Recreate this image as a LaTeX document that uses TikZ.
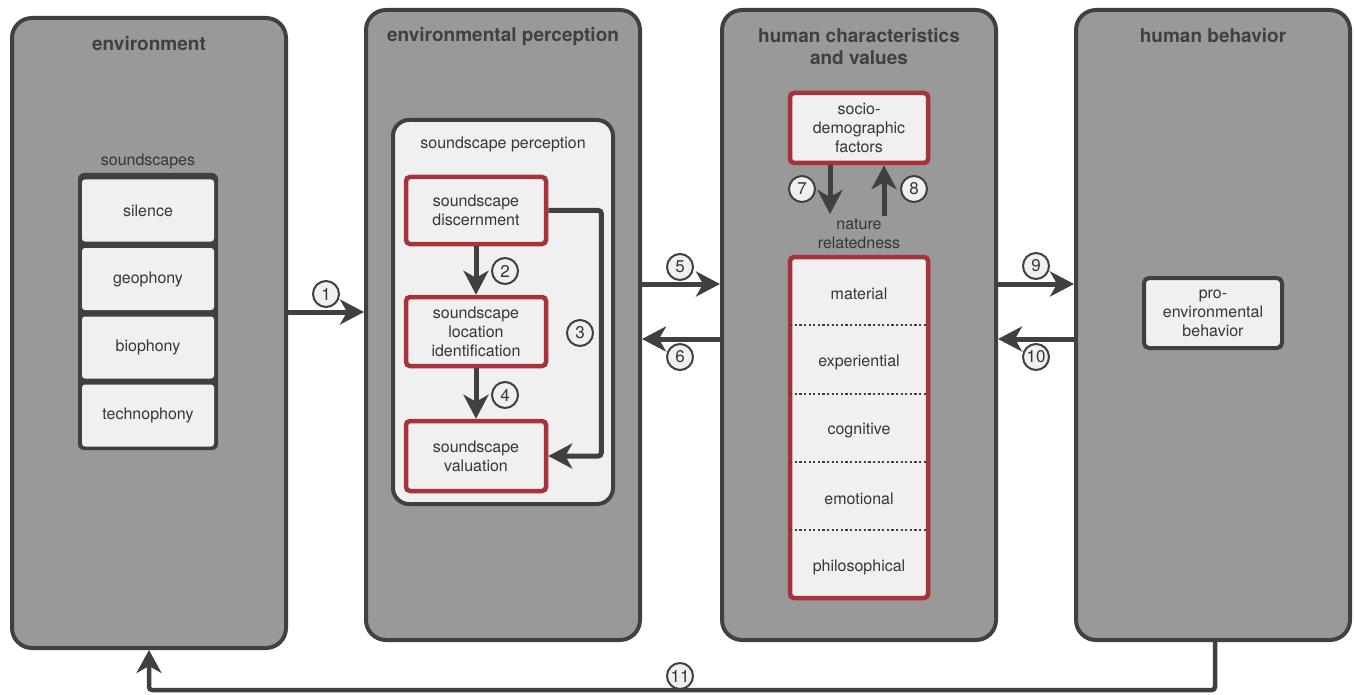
\documentclass[tikz,border=0pt]{standalone}
\usepackage{fontspec}
\setmainfont{TeX Gyre Heros}
\usetikzlibrary{arrows.meta,calc}
\definecolor{dk}{HTML}{404040}
\definecolor{pg}{HTML}{999999}
\definecolor{lt}{HTML}{F0F0F0}
\definecolor{rd}{HTML}{A6333B}
\definecolor{tx}{HTML}{363636}
\begin{document}
\begin{tikzpicture}[x=1pt,y=-1pt,
  panel/.style={draw=dk, fill=pg, line width=4pt, rounded corners=20pt, minimum width=274pt, minimum height=630pt, inner sep=0pt},
  title/.style={font=\fontsize{19}{22}\selectfont\bfseries, text=dk, align=center, inner sep=0pt},
  lbl/.style={font=\fontsize{16}{19}\selectfont, text=tx, align=center, inner sep=0pt},
  redbox/.style={draw=rd, fill=lt, line width=4.5pt, rounded corners=4pt, minimum width=140pt, inner sep=0pt, font=\fontsize{16}{19}\selectfont, text=tx, align=center},
  ssbox/.style={fill=lt, rounded corners=3pt, minimum width=132pt, minimum height=62pt, inner sep=0pt, font=\fontsize{16}{19}\selectfont, text=tx},
  graybox/.style={draw=dk, fill=lt, line width=4pt, inner sep=0pt, font=\fontsize{16}{19}\selectfont, text=tx, align=center},
  num/.style={circle, draw=dk, fill=lt, line width=2pt, minimum size=26pt, inner sep=0pt, font=\fontsize{17}{17}\selectfont, text=tx},
  arr/.style={draw=dk, line width=5pt, -{Stealth[length=24pt,width=25pt,inset=7pt]}},
  divider/.style={draw=dk, line width=2.4pt, dash pattern=on 2.2pt off 2.4pt}
]
\useasboundingbox (0,0) rectangle (1354,695);

% panels
\node[panel] (env) at (149,333) {};
\node[panel] (perc) at (503,325) {};
\node[panel] (hum) at (859,325) {};
\node[panel] (beh) at (1213,325) {};

\node[title] (tenv) at (149,44) {environment};
\node[title] (tperc) at (503,36) {environmental perception};
\node[title] (thum) at (859,47) {human characteristics\\and values};
\node[title] (tbeh) at (1213,36) {human behavior};

% soundscapes
\node[lbl] (sslbl) at (148,161) {soundscapes};
\node[fill=dk, rounded corners=6pt, minimum width=140pt, minimum height=277pt, inner sep=0pt] (ss) at (148,311.5) {};
\node[ssbox] (sil) at (148,210.5) {silence};
\node[ssbox] (geo) at (148,279) {geophony};
\node[ssbox] (bio) at (148,347.5) {biophony};
\node[ssbox] (tec) at (148,415.5) {technophony};

% soundscape perception
\node[graybox, rounded corners=16pt, minimum width=220pt, minimum height=384pt] (sp) at (503,312) {};
\node[lbl] (splbl) at (503,144) {soundscape perception};
\node[redbox, minimum height=67pt] (disc) at (476,210.5) {soundscape\\discernment};
\node[redbox, minimum height=69pt] (loc) at (476,331.5) {soundscape\\location\\identification};
\node[redbox, minimum height=70pt] (val) at (476,456) {soundscape\\valuation};

\draw[arr] (disc) -- (loc);
\draw[arr] (loc) -- (val);
\draw[arr, rounded corners=3pt] (disc.east) -- ++(53,0) |- (val.east);
\node[num] (n2) at (505,271) {2};
\node[num] (n4) at (505,395) {4};
\node[num] (n3) at (580,333) {3};

% human characteristics
\node[redbox, minimum width=138pt, minimum height=70pt] (soc) at (859,128) {socio-\\demographic\\factors};
\node[lbl] (nr) at (859,234) {nature\\relatedness};
\node[redbox, minimum width=138pt, minimum height=341pt] (nat) at (859,427.5) {};
\node[lbl] (mat) at (859,294) {material};
\node[lbl] (exp) at (859,362) {experiential};
\node[lbl] (cog) at (859,431) {cognitive};
\node[lbl] (emo) at (859,499) {emotional};
\node[lbl] (phi) at (859,567) {philosophical};
\foreach \yy in {325,394,462,530}{
  \coordinate (dv) at (0,\yy);
  \draw[divider] ([xshift=2.5pt]nat.west |- dv) -- ([xshift=-2.5pt]nat.east |- dv);
}
\coordinate (n7end) at (830,214);
\coordinate (n8start) at (884,216);
\draw[arr] (soc.south -| n7end) -- (n7end);
\draw[arr] (n8start) -- (soc.south -| n8start);
\node[num] (n7) at (802,189) {7};
\node[num] (n8) at (914,189) {8};

% human behavior
\node[graybox, rounded corners=5pt, minimum width=138pt, minimum height=70pt] (pro) at (1213,313) {pro-\\environmental\\behavior};

% inter-panel arrows
\coordinate (ya) at (0,312);
\coordinate (yb) at (0,284);
\coordinate (yc) at (0,339);
\draw[arr] (env.east |- ya) -- (perc.west |- ya);
\node[num] (n1) at (326,294) {1};
\draw[arr] (perc.east |- yb) -- (hum.west |- yb);
\node[num] (n5) at (680,267) {5};
\draw[arr] (hum.west |- yc) -- (perc.east |- yc);
\node[num] (n6) at (680,357) {6};
\draw[arr] (hum.east |- yb) -- (beh.west |- yb);
\node[num] (n9) at (1036,266) {9};
\draw[arr] (beh.west |- yc) -- (hum.east |- yc);
\node[num] (n10) at (1036,357) {10};

% feedback arrow
\coordinate (fb) at (1215,690);
\draw[draw=dk, line width=4.5pt, rounded corners=3pt, -{Stealth[length=23pt,width=25pt,inset=7pt]}] (beh.south -| fb) -- (fb) -| (env.south);
\node[num] (n11) at (680,676) {11};
\end{tikzpicture}
\end{document}
